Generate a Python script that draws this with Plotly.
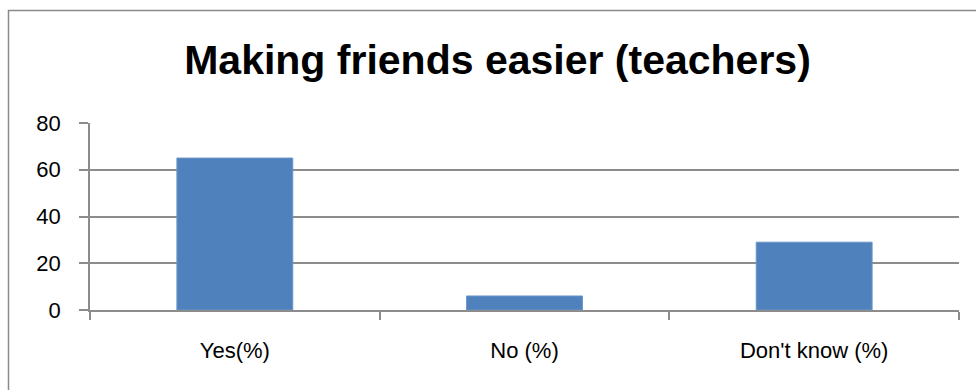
import plotly.graph_objects as go

# Survey answers: share of teachers who think it is easier to make friends
categories = ["Yes(%)", "No (%)", "Don't know (%)"]
values = [65, 6, 29]
y_ticks = [0, 20, 40, 60, 80]

W, H = 976, 390
M_L, M_R, M_T, M_B = 90, 17, 123, 80

GRID = "#8c8c8c"
BAR = "#4f81bd"

fig = go.Figure(
    go.Bar(
        x=categories,
        y=values,
        marker=dict(color=BAR, line=dict(color="#6b94c8", width=1)),
        width=0.4,
        hoverinfo="x+y",
    )
)

# Outer chart frame, expressed in paper units from the pixel margins
plot_w = W - M_L - M_R
plot_h = H - M_T - M_B
frame_left = (8.5 - M_L) / plot_w
frame_top = (H - M_B - 10.5) / plot_h

fig.add_shape(
    type="rect",
    xref="paper", yref="paper",
    x0=frame_left, x1=1.2,
    y0=-1.0, y1=frame_top,
    line=dict(color="#8a8a8a", width=1.5),
    fillcolor="rgba(0,0,0,0)",
    layer="above",
)

fig.update_layout(
    width=W,
    height=H,
    margin=dict(l=M_L, r=M_R, t=M_T, b=M_B),
    paper_bgcolor="white",
    plot_bgcolor="white",
    showlegend=False,
    title=dict(
        text="<b>Making friends easier (teachers)</b>",
        x=497.5 / W,
        xanchor="center",
        y=1 - 60 / H,
        yanchor="middle",
        font=dict(family="Liberation Sans, Arial, sans-serif", size=41, color="black"),
    ),
    font=dict(family="Liberation Sans, Arial, sans-serif", size=22, color="black"),
    bargap=0.6,
)

fig.update_xaxes(
    type="category",
    showline=True,
    linecolor=GRID,
    linewidth=1.5,
    ticks="outside",
    tickson="boundaries",
    ticklen=8,
    tickcolor=GRID,
    tickwidth=1.5,
    showgrid=False,
    tickfont=dict(size=22, color="black"),
    ticklabelstandoff=20,
)

fig.update_yaxes(
    range=[0, 80],
    tickvals=y_ticks,
    ticktext=[str(v) for v in y_ticks],
    showline=True,
    linecolor=GRID,
    linewidth=1.5,
    ticks="outside",
    ticklen=9,
    tickcolor=GRID,
    tickwidth=1.5,
    showgrid=True,
    gridcolor=GRID,
    gridwidth=1.5,
    zeroline=False,
    tickfont=dict(size=22, color="black"),
    ticklabelstandoff=14,
)

fig.write_html("out.html")
